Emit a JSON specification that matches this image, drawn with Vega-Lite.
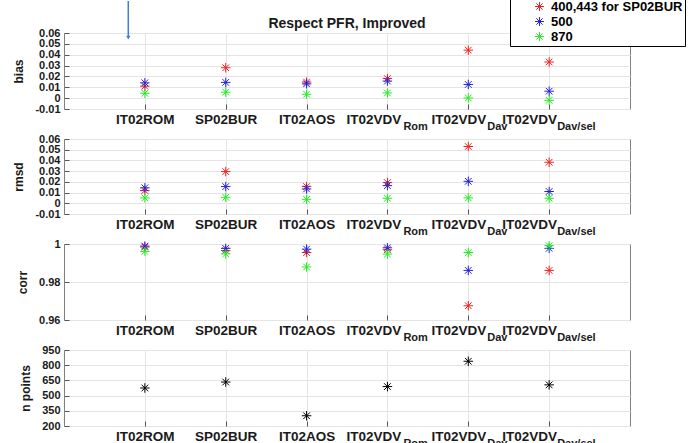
{
  "$schema": "https://vega.github.io/schema/vega-lite/v6.json",
  "background": "white",
  "padding": {"left": 12, "top": -3, "right": 5, "bottom": 5},
  "datasets": {
    "stats": [
      {"site": "IT02ROM", "pos": 1, "wl": "400,443 for SP02BUR", "bias": 0.011, "rmsd": 0.0119, "corr": 0.9984},
      {"site": "IT02ROM", "pos": 1, "wl": "500", "bias": 0.0141, "rmsd": 0.0144, "corr": 0.9989},
      {"site": "IT02ROM", "pos": 1, "wl": "870", "bias": 0.0045, "rmsd": 0.005, "corr": 0.9961},
      {"site": "SP02BUR", "pos": 2, "wl": "400,443 for SP02BUR", "bias": 0.028, "rmsd": 0.0296, "corr": 0.9966},
      {"site": "SP02BUR", "pos": 2, "wl": "500", "bias": 0.0145, "rmsd": 0.0156, "corr": 0.9977},
      {"site": "SP02BUR", "pos": 2, "wl": "870", "bias": 0.0055, "rmsd": 0.0056, "corr": 0.9948},
      {"site": "IT02AOS", "pos": 3, "wl": "400,443 for SP02BUR", "bias": 0.0148, "rmsd": 0.0156, "corr": 0.9955},
      {"site": "IT02AOS", "pos": 3, "wl": "500", "bias": 0.0132, "rmsd": 0.0134, "corr": 0.9973},
      {"site": "IT02AOS", "pos": 3, "wl": "870", "bias": 0.0036, "rmsd": 0.0037, "corr": 0.9879},
      {"site": "IT02VDV_Rom", "pos": 4, "wl": "400,443 for SP02BUR", "bias": 0.018, "rmsd": 0.0193, "corr": 0.997},
      {"site": "IT02VDV_Rom", "pos": 4, "wl": "500", "bias": 0.0157, "rmsd": 0.0165, "corr": 0.998},
      {"site": "IT02VDV_Rom", "pos": 4, "wl": "870", "bias": 0.0048, "rmsd": 0.0047, "corr": 0.9947},
      {"site": "IT02VDV_Dav", "pos": 5, "wl": "400,443 for SP02BUR", "bias": 0.0442, "rmsd": 0.053, "corr": 0.9675},
      {"site": "IT02VDV_Dav", "pos": 5, "wl": "500", "bias": 0.0126, "rmsd": 0.0205, "corr": 0.9861},
      {"site": "IT02VDV_Dav", "pos": 5, "wl": "870", "bias": 0.0002, "rmsd": 0.005, "corr": 0.9955},
      {"site": "IT02VDV_Dav/sel", "pos": 6, "wl": "400,443 for SP02BUR", "bias": 0.0333, "rmsd": 0.0383, "corr": 0.9861},
      {"site": "IT02VDV_Dav/sel", "pos": 6, "wl": "500", "bias": 0.0064, "rmsd": 0.011, "corr": 0.9977},
      {"site": "IT02VDV_Dav/sel", "pos": 6, "wl": "870", "bias": -0.002, "rmsd": 0.0047, "corr": 0.9991}
    ],
    "npts": [
      {"site": "IT02ROM", "pos": 1, "n": 575},
      {"site": "SP02BUR", "pos": 2, "n": 634},
      {"site": "IT02AOS", "pos": 3, "n": 301},
      {"site": "IT02VDV_Rom", "pos": 4, "n": 589},
      {"site": "IT02VDV_Dav", "pos": 5, "n": 839},
      {"site": "IT02VDV_Dav/sel", "pos": 6, "n": 606}
    ],
    "subs": [
      {"pos": 4, "sub": "Rom"},
      {"pos": 5, "sub": "Dav"},
      {"pos": 6, "sub": "Dav/sel"}
    ],
    "arrow": [
      {"x": 0.795, "y": 0.0895, "y2": 0.0557}
    ]
  },
  "config": {
    "font": "Liberation Sans",
    "view": {"stroke": "#808080", "strokeWidth": 1},
    "axis": {
      "labelFont": "Liberation Sans", "labelFontWeight": "bold", "labelColor": "#1a1a1a",
      "titleFont": "Liberation Sans", "titleFontWeight": "bold", "titleColor": "#1a1a1a",
      "gridColor": "#e4e4e4", "gridWidth": 1, "domain": false, "tickColor": "#555555",
      "labelOverlap": false, "labelBound": false, "labelFlush": false
    },
    "axisBottom": {
      "title": null, "values": [1, 2, 3, 4, 5, 6],
      "labelFontSize": 13.5, "labelPadding": 8, "tickSize": -5, "grid": true
    },
    "axisLeft": {
      "labelFontSize": 11, "labelPadding": 9, "tickSize": -5, "grid": true, "titleFontSize": 12, "titlePadding": 9
    }
  },
  "bounds": "flush",
  "spacing": 30,
  "vconcat": [
    {
      "width": 566, "height": 76,
      "title": {"text": "Respect PFR, Improved", "frame": "group", "anchor": "middle", "fontSize": 14, "fontWeight": "bold", "font": "Liberation Sans", "color": "#1a1a1a", "offset": 4, "dy": 35},
      "layer": [
        {
          "data": {"name": "stats"},
          "mark": {"type": "point", "shape": "M-1,0L1,0M0,-1L0,1M-0.7,-0.7L0.7,0.7M-0.7,0.7L0.7,-0.7", "filled": false, "strokeWidth": 1, "size": 90, "opacity": 1},
          "encoding": {
            "x": {"field": "pos", "type": "quantitative", "scale": {"domain": [0, 7], "nice": false, "zero": false},
              "axis": {"orient": "bottom", "title": null, "values": [1, 2, 3, 4, 5, 6],
                "labelExpr": "['','IT02ROM','SP02BUR','IT02AOS','IT02VDV','IT02VDV','IT02VDV'][datum.value]",
                "labelOffset": {"condition": [{"test": "datum.value == 4", "value": -14}, {"test": "datum.value == 5", "value": -10}, {"test": "datum.value == 6", "value": -20}], "value": 0}}},
            "y": {"field": "bias", "type": "quantitative", "scale": {"domain": [-0.01, 0.06], "nice": false, "zero": false},
              "axis": {"orient": "left", "title": "bias", "values": [-0.01, 0, 0.01, 0.02, 0.03, 0.04, 0.05, 0.06],
                "labelExpr": "datum.value < 0 ? '-' + format(-datum.value, '.2~f') : format(datum.value, '.2~f')"}},
            "color": {"field": "wl", "type": "nominal",
              "scale": {"domain": ["400,443 for SP02BUR", "500", "870"], "range": ["#f02020", "#2222dd", "#22ee22"]},
              "legend": {"title": null,
                "orient": "none", "legendX": 446, "legendY": -35, "direction": "vertical",
                "strokeColor": "#000000", "fillColor": "#ffffff", "padding": 2, "labelOffset": 26,
                "labelFontSize": 13, "labelFont": "Liberation Sans", "labelFontWeight": "bold", "labelColor": "#000000",
                "rowPadding": 1, "symbolType": "M3.7,0L5.7,0M4.7,-1L4.7,1M4,-0.7L5.4,0.7M4,0.7L5.4,-0.7", "symbolSize": 80,
                "symbolStrokeWidth": 1, "symbolFillColor": "transparent", "cornerRadius": 0, "labelLimit": 300}}
          }
        },
        {
          "data": {"name": "subs"},
          "mark": {"type": "text", "align": "left", "baseline": "top", "dy": 12, "fontSize": 11, "fontWeight": "bold", "font": "Liberation Sans", "color": "#1a1a1a",
            "dx": {"expr": "datum.pos == 4 ? 16 : datum.pos == 5 ? 19 : 8"}},
          "encoding": {
            "x": {"field": "pos", "type": "quantitative",
              "axis": {"orient": "bottom", "title": null, "values": [1, 2, 3, 4, 5, 6],
                "labelExpr": "['','IT02ROM','SP02BUR','IT02AOS','IT02VDV','IT02VDV','IT02VDV'][datum.value]",
                "labelOffset": {"condition": [{"test": "datum.value == 4", "value": -14}, {"test": "datum.value == 5", "value": -10}, {"test": "datum.value == 6", "value": -20}], "value": 0}}},
            "y": {"datum": -0.01, "type": "quantitative",
              "axis": {"orient": "left", "title": "bias", "values": [-0.01, 0, 0.01, 0.02, 0.03, 0.04, 0.05, 0.06],
                "labelExpr": "datum.value < 0 ? '-' + format(-datum.value, '.2~f') : format(datum.value, '.2~f')"}},
            "text": {"field": "sub"}
          }
        },
        {
          "data": {"name": "arrow"},
          "mark": {"type": "rule", "color": "#3f7fcf", "strokeWidth": 1.5},
          "encoding": {
            "x": {"field": "x", "type": "quantitative",
              "axis": {"orient": "bottom", "title": null, "values": [1, 2, 3, 4, 5, 6],
                "labelExpr": "['','IT02ROM','SP02BUR','IT02AOS','IT02VDV','IT02VDV','IT02VDV'][datum.value]",
                "labelOffset": {"condition": [{"test": "datum.value == 4", "value": -14}, {"test": "datum.value == 5", "value": -10}, {"test": "datum.value == 6", "value": -20}], "value": 0}}},
            "y": {"field": "y", "type": "quantitative",
              "axis": {"orient": "left", "title": "bias", "values": [-0.01, 0, 0.01, 0.02, 0.03, 0.04, 0.05, 0.06],
                "labelExpr": "datum.value < 0 ? '-' + format(-datum.value, '.2~f') : format(datum.value, '.2~f')"}},
            "y2": {"field": "y2"}
          }
        },
        {
          "data": {"name": "arrow"},
          "mark": {"type": "point", "shape": "triangle-down", "filled": true, "color": "#3f7fcf", "size": 18, "opacity": 1},
          "encoding": {
            "x": {"field": "x", "type": "quantitative",
              "axis": {"orient": "bottom", "title": null, "values": [1, 2, 3, 4, 5, 6],
                "labelExpr": "['','IT02ROM','SP02BUR','IT02AOS','IT02VDV','IT02VDV','IT02VDV'][datum.value]",
                "labelOffset": {"condition": [{"test": "datum.value == 4", "value": -14}, {"test": "datum.value == 5", "value": -10}, {"test": "datum.value == 6", "value": -20}], "value": 0}}},
            "y": {"field": "y2", "type": "quantitative",
              "axis": {"orient": "left", "title": "bias", "values": [-0.01, 0, 0.01, 0.02, 0.03, 0.04, 0.05, 0.06],
                "labelExpr": "datum.value < 0 ? '-' + format(-datum.value, '.2~f') : format(datum.value, '.2~f')"}}
          }
        }
      ]
    },
    {
      "width": 566, "height": 75,
      "layer": [
        {
          "data": {"name": "stats"},
          "mark": {"type": "point", "shape": "M-1,0L1,0M0,-1L0,1M-0.7,-0.7L0.7,0.7M-0.7,0.7L0.7,-0.7", "filled": false, "strokeWidth": 1, "size": 90, "opacity": 1},
          "encoding": {
            "x": {"field": "pos", "type": "quantitative", "scale": {"domain": [0, 7], "nice": false, "zero": false},
              "axis": {"orient": "bottom", "title": null, "values": [1, 2, 3, 4, 5, 6],
                "labelExpr": "['','IT02ROM','SP02BUR','IT02AOS','IT02VDV','IT02VDV','IT02VDV'][datum.value]",
                "labelOffset": {"condition": [{"test": "datum.value == 4", "value": -14}, {"test": "datum.value == 5", "value": -10}, {"test": "datum.value == 6", "value": -20}], "value": 0}}},
            "y": {"field": "rmsd", "type": "quantitative", "scale": {"domain": [-0.01, 0.06], "nice": false, "zero": false},
              "axis": {"orient": "left", "title": "rmsd", "values": [-0.01, 0, 0.01, 0.02, 0.03, 0.04, 0.05, 0.06],
                "labelExpr": "datum.value < 0 ? '-' + format(-datum.value, '.2~f') : format(datum.value, '.2~f')"}},
            "color": {"field": "wl", "type": "nominal",
              "scale": {"domain": ["400,443 for SP02BUR", "500", "870"], "range": ["#f02020", "#2222dd", "#22ee22"]},
              "legend": {"title": null,
                "orient": "none", "legendX": 446, "legendY": -35, "direction": "vertical",
                "strokeColor": "#000000", "fillColor": "#ffffff", "padding": 2, "labelOffset": 26,
                "labelFontSize": 13, "labelFont": "Liberation Sans", "labelFontWeight": "bold", "labelColor": "#000000",
                "rowPadding": 1, "symbolType": "M3.7,0L5.7,0M4.7,-1L4.7,1M4,-0.7L5.4,0.7M4,0.7L5.4,-0.7", "symbolSize": 80,
                "symbolStrokeWidth": 1, "symbolFillColor": "transparent", "cornerRadius": 0, "labelLimit": 300}}
          }
        },
        {
          "data": {"name": "subs"},
          "mark": {"type": "text", "align": "left", "baseline": "top", "dy": 12, "fontSize": 11, "fontWeight": "bold", "font": "Liberation Sans", "color": "#1a1a1a",
            "dx": {"expr": "datum.pos == 4 ? 16 : datum.pos == 5 ? 19 : 8"}},
          "encoding": {
            "x": {"field": "pos", "type": "quantitative",
              "axis": {"orient": "bottom", "title": null, "values": [1, 2, 3, 4, 5, 6],
                "labelExpr": "['','IT02ROM','SP02BUR','IT02AOS','IT02VDV','IT02VDV','IT02VDV'][datum.value]",
                "labelOffset": {"condition": [{"test": "datum.value == 4", "value": -14}, {"test": "datum.value == 5", "value": -10}, {"test": "datum.value == 6", "value": -20}], "value": 0}}},
            "y": {"datum": -0.01, "type": "quantitative",
              "axis": {"orient": "left", "title": "rmsd", "values": [-0.01, 0, 0.01, 0.02, 0.03, 0.04, 0.05, 0.06],
                "labelExpr": "datum.value < 0 ? '-' + format(-datum.value, '.2~f') : format(datum.value, '.2~f')"}},
            "text": {"field": "sub"}
          }
        }
      ]
    },
    {
      "width": 566, "height": 76,
      "layer": [
        {
          "data": {"name": "stats"},
          "mark": {"type": "point", "shape": "M-1,0L1,0M0,-1L0,1M-0.7,-0.7L0.7,0.7M-0.7,0.7L0.7,-0.7", "filled": false, "strokeWidth": 1, "size": 90, "opacity": 1},
          "encoding": {
            "x": {"field": "pos", "type": "quantitative", "scale": {"domain": [0, 7], "nice": false, "zero": false},
              "axis": {"orient": "bottom", "title": null, "values": [1, 2, 3, 4, 5, 6],
                "labelExpr": "['','IT02ROM','SP02BUR','IT02AOS','IT02VDV','IT02VDV','IT02VDV'][datum.value]",
                "labelOffset": {"condition": [{"test": "datum.value == 4", "value": -14}, {"test": "datum.value == 5", "value": -10}, {"test": "datum.value == 6", "value": -20}], "value": 0}}},
            "y": {"field": "corr", "type": "quantitative", "scale": {"domain": [0.96, 1], "nice": false, "zero": false},
              "axis": {"orient": "left", "title": "corr", "values": [0.96, 0.98, 1], "labelExpr": "format(datum.value, '.2~f')"}},
            "color": {"field": "wl", "type": "nominal",
              "scale": {"domain": ["400,443 for SP02BUR", "500", "870"], "range": ["#f02020", "#2222dd", "#22ee22"]},
              "legend": {"title": null,
                "orient": "none", "legendX": 446, "legendY": -35, "direction": "vertical",
                "strokeColor": "#000000", "fillColor": "#ffffff", "padding": 2, "labelOffset": 26,
                "labelFontSize": 13, "labelFont": "Liberation Sans", "labelFontWeight": "bold", "labelColor": "#000000",
                "rowPadding": 1, "symbolType": "M3.7,0L5.7,0M4.7,-1L4.7,1M4,-0.7L5.4,0.7M4,0.7L5.4,-0.7", "symbolSize": 80,
                "symbolStrokeWidth": 1, "symbolFillColor": "transparent", "cornerRadius": 0, "labelLimit": 300}}
          }
        },
        {
          "data": {"name": "subs"},
          "mark": {"type": "text", "align": "left", "baseline": "top", "dy": 12, "fontSize": 11, "fontWeight": "bold", "font": "Liberation Sans", "color": "#1a1a1a",
            "dx": {"expr": "datum.pos == 4 ? 16 : datum.pos == 5 ? 19 : 8"}},
          "encoding": {
            "x": {"field": "pos", "type": "quantitative",
              "axis": {"orient": "bottom", "title": null, "values": [1, 2, 3, 4, 5, 6],
                "labelExpr": "['','IT02ROM','SP02BUR','IT02AOS','IT02VDV','IT02VDV','IT02VDV'][datum.value]",
                "labelOffset": {"condition": [{"test": "datum.value == 4", "value": -14}, {"test": "datum.value == 5", "value": -10}, {"test": "datum.value == 6", "value": -20}], "value": 0}}},
            "y": {"datum": 0.96, "type": "quantitative",
              "axis": {"orient": "left", "title": "corr", "values": [0.96, 0.98, 1], "labelExpr": "format(datum.value, '.2~f')"}},
            "text": {"field": "sub"}
          }
        }
      ]
    },
    {
      "width": 566, "height": 76,
      "layer": [
        {
          "data": {"name": "npts"},
          "mark": {"type": "point", "shape": "M-1,0L1,0M0,-1L0,1M-0.7,-0.7L0.7,0.7M-0.7,0.7L0.7,-0.7", "filled": false, "strokeWidth": 1, "size": 90, "opacity": 1, "color": "#000000"},
          "encoding": {
            "x": {"field": "pos", "type": "quantitative", "scale": {"domain": [0, 7], "nice": false, "zero": false},
              "axis": {"orient": "bottom", "title": null, "values": [1, 2, 3, 4, 5, 6],
                "labelExpr": "['','IT02ROM','SP02BUR','IT02AOS','IT02VDV','IT02VDV','IT02VDV'][datum.value]",
                "labelOffset": {"condition": [{"test": "datum.value == 4", "value": -14}, {"test": "datum.value == 5", "value": -10}, {"test": "datum.value == 6", "value": -20}], "value": 0}}},
            "y": {"field": "n", "type": "quantitative", "scale": {"domain": [200, 950], "nice": false, "zero": false},
              "axis": {"orient": "left", "title": "n points", "values": [200, 350, 500, 650, 800, 950], "format": "d"}}
          }
        },
        {
          "data": {"name": "subs"},
          "mark": {"type": "text", "align": "left", "baseline": "top", "dy": 12, "fontSize": 11, "fontWeight": "bold", "font": "Liberation Sans", "color": "#1a1a1a",
            "dx": {"expr": "datum.pos == 4 ? 16 : datum.pos == 5 ? 19 : 8"}},
          "encoding": {
            "x": {"field": "pos", "type": "quantitative",
              "axis": {"orient": "bottom", "title": null, "values": [1, 2, 3, 4, 5, 6],
                "labelExpr": "['','IT02ROM','SP02BUR','IT02AOS','IT02VDV','IT02VDV','IT02VDV'][datum.value]",
                "labelOffset": {"condition": [{"test": "datum.value == 4", "value": -14}, {"test": "datum.value == 5", "value": -10}, {"test": "datum.value == 6", "value": -20}], "value": 0}}},
            "y": {"datum": 200, "type": "quantitative",
              "axis": {"orient": "left", "title": "n points", "values": [200, 350, 500, 650, 800, 950], "format": "d"}},
            "text": {"field": "sub"}
          }
        }
      ]
    }
  ]
}
